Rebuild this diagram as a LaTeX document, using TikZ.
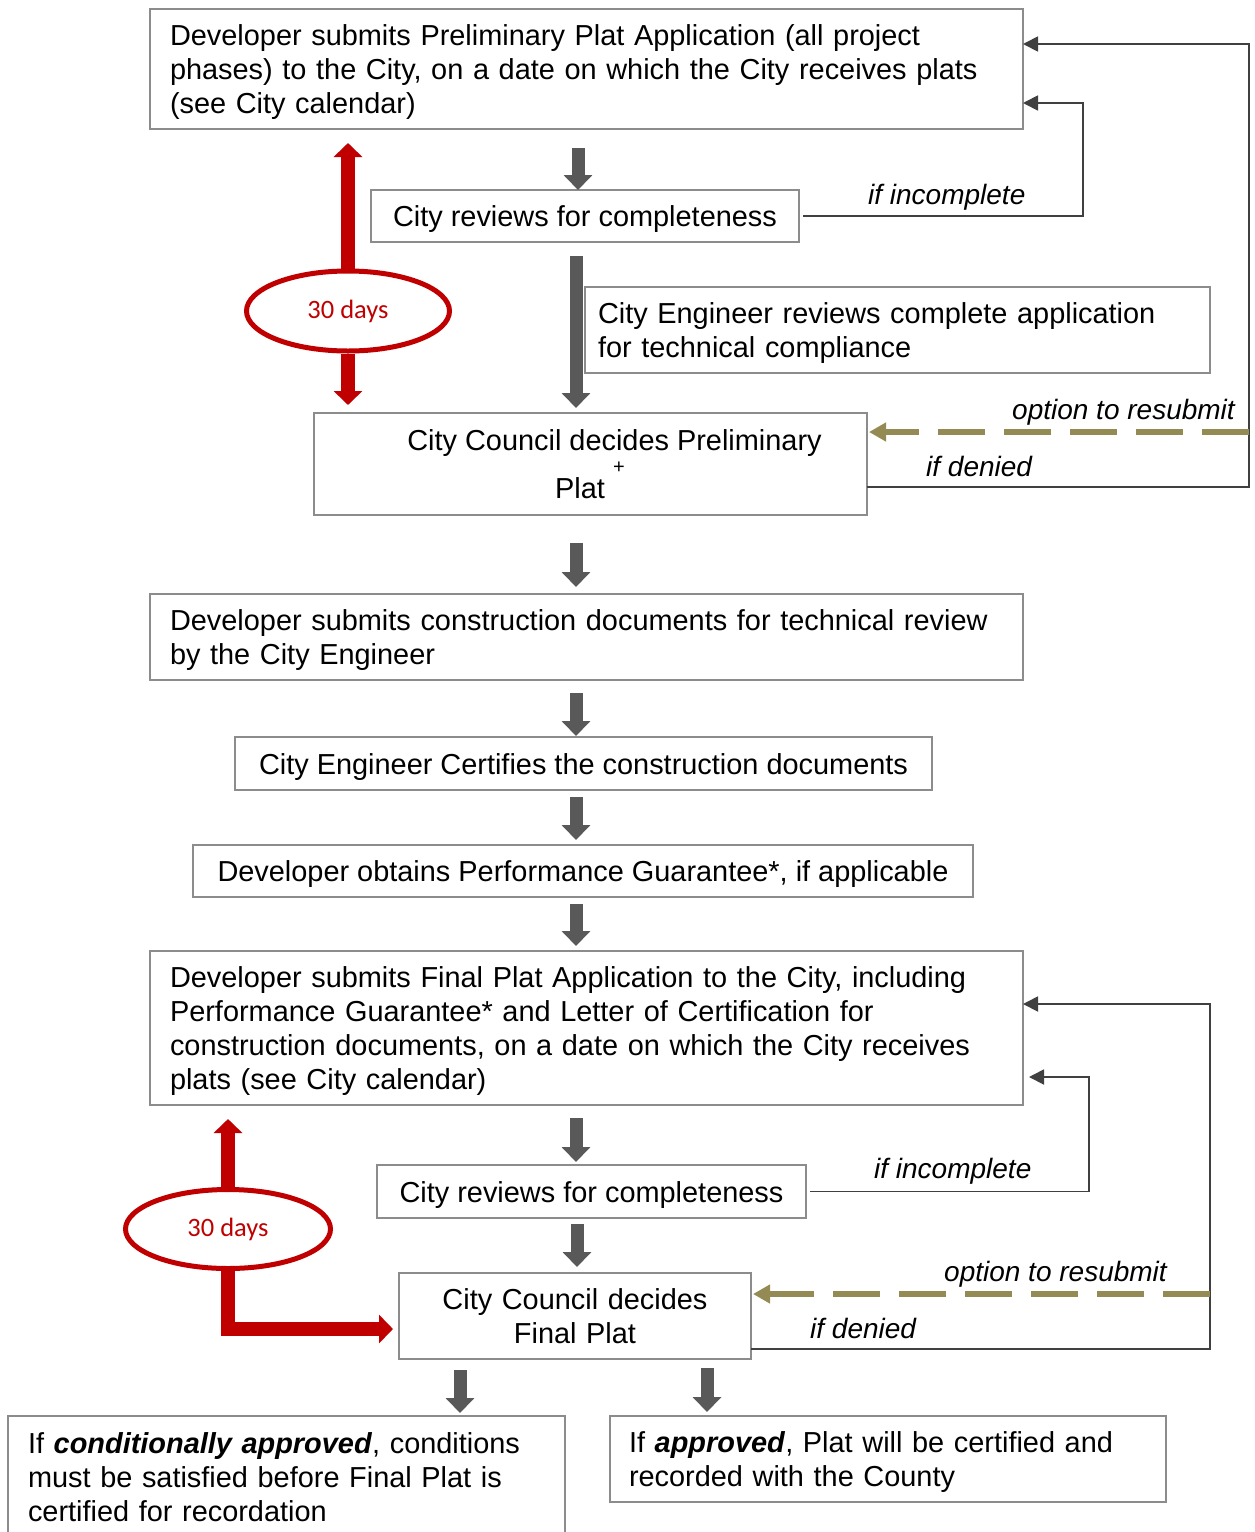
\documentclass[tikz,border=0pt]{standalone}
\usepackage{fontspec}
\setmainfont{Liberation Sans}
\newfontfamily\calib{Carlito}
\usetikzlibrary{arrows.meta,calc,shapes.geometric}
\definecolor{boxgray}{HTML}{8C8C8C}
\definecolor{arrgray}{HTML}{595959}
\definecolor{linegray}{HTML}{404040}
\definecolor{dkred}{HTML}{C00000}
\definecolor{resubOlive}{HTML}{948A54}
\def\ppstrut{\rule[-6.5pt]{0pt}{34pt}}
\begin{document}
\begin{tikzpicture}[x=1pt,y=-1pt,
  every node/.style={font=\fontsize{28.9}{34}\selectfont},
  box/.style={draw=boxgray,line width=1.8pt,fill=white,anchor=north west,inner ysep=0pt,outer sep=0pt,
    execute at begin node=\ppstrut,execute at end node=\ppstrut},
  cbox/.style={box,align=center,inner xsep=0pt},
  lbl/.style={font=\itshape\fontsize{28}{34}\selectfont,inner sep=0pt,anchor=base west},
  txt/.style={inner sep=0pt},
  fat/.style={color=arrgray,line width=13pt,-{Triangle[width=28pt,length=15pt]}},
  redarrow/.style={color=dkred,line width=14pt,line join=miter,-{Triangle[width=28pt,length=14pt]}},
  tarrow/.style={color=linegray,line width=1.8pt,-{Triangle[width=15pt,length=15pt]}},
  odash/.style={color=resubOlive,line width=6pt,dash pattern=on 47pt off 19pt,-{Triangle[width=18pt,length=17pt]}},
  redell/.style={ellipse,draw=dkred,line width=5pt,fill=white,inner sep=0pt,text=dkred,font=\calib\fontsize{26.5}{30}\selectfont}
]
\fill[white] (0,0) rectangle (1254,1532);
\useasboundingbox (0,0) rectangle (1254,1532);

% boxes
\node[box,align=left,inner xsep=20pt,text width=833pt,minimum height=120pt] (b1) at (150,9)
  {Developer submits Preliminary Plat Application (all project\\phases) to the City, on a date on which the City receives plats\\(see City calendar)};
\node[cbox,minimum width=428pt,minimum height=52pt] (b2) at (371,190)
  {City reviews for completeness};
\node[box,align=left,inner xsep=13pt,text width=599pt,minimum height=86pt] (b3) at (585,287)
  {City Engineer reviews complete application\\for technical compliance};
\node[box,minimum width=553pt,minimum height=102pt] (b4) at (314,413) {};
\node[txt,anchor=base] (t4a) at (614.5,450) {City Council decides Preliminary};
\node[txt,anchor=base west] (t4b) at (555,498) {Plat};
\node[txt,font=\fontsize{20}{24}\selectfont] (t4c) at (619,468) {+};
\node[box,align=left,inner xsep=20pt,text width=833pt,minimum height=86pt] (b5) at (150,594)
  {Developer submits construction documents for technical review\\by the City Engineer};
\node[cbox,minimum width=697pt,minimum height=53pt] (b6) at (235,737)
  {City Engineer Certifies the construction documents};
\node[cbox,minimum width=780pt,minimum height=52pt] (b7) at (193,845)
  {Developer obtains Performance Guarantee*, if applicable};
\node[box,align=left,inner xsep=20pt,text width=833pt,minimum height=154pt] (b8) at (150,951)
  {Developer submits Final Plat Application to the City, including\\Performance Guarantee* and Letter of Certification for\\construction documents, on a date on which the City receives\\plats (see City calendar)};
\node[cbox,minimum width=429pt,minimum height=53pt] (b9) at (377,1165)
  {City reviews for completeness};
\node[box,align=center,inner xsep=20pt,text width=312pt,minimum height=86pt] (b10) at (399,1273)
  {City Council decides\\Final Plat};
\node[box,align=left,inner xsep=20pt,text width=517pt,minimum height=122pt] (b11) at (8,1416)
  {If \textbf{\textit{conditionally approved}}, conditions\\must be satisfied before Final Plat is\\certified for recordation};
\node[box,align=left,inner xsep=19pt,text width=518pt,minimum height=86pt] (b12) at (610,1416)
  {If \textbf{\textit{approved}}, Plat will be certified and\\recorded with the County};

% 30 days ellipses
\node[redell,minimum width=203pt,minimum height=80pt] (e1) at (348,311) {30 days};
\node[redell,minimum width=205pt,minimum height=79pt] (e2) at (228,1229) {30 days};

% red arrows
\draw[redarrow] (e1.north) -- ($(e1.north |- b1.south)+(0,14)$);
\draw[redarrow] (e1.south) -- ($(e1.south |- b4.north)+(0,-8)$);
\draw[redarrow] (e2.north) -- ($(e2.north |- b8.south)+(0,14)$);
\draw[redarrow] (e2.south) |- ($(b10.west)+(-6,13)$);

% main flow arrows
\draw[fat] ($(b1.south -| b2.north)+(-7,19)$) -- ($(b2.north)+(-7,0)$);
\draw[fat] ($(b2.south -| b4.north)+(-14.5,14)$) -- ($(b4.north)+(-14.5,-5)$);
\draw[fat] ($(b4.south -| b5.north)+(-10.5,28)$) -- ($(b5.north)+(-10.5,-7)$);
\draw[fat] ($(b5.south -| b6.north)+(-7.5,13)$) -- ($(b6.north)+(-7.5,-1)$);
\draw[fat] ($(b6.south -| b7.north)+(-7,7)$) -- ($(b7.north)+(-7,-5)$);
\draw[fat] ($(b7.south -| b8.north)+(-10.5,7)$) -- ($(b8.north)+(-10.5,-5)$);
\draw[fat] ($(b8.south -| b9.north)+(-15.5,13)$) -- ($(b9.north)+(-15.5,-3)$);
\draw[fat] ($(b9.south -| b10.north)+(2,6)$) -- ($(b10.north)+(2,-6)$);
\draw[fat] ($(b10.south)+(-115,11)$) -- ($(b11.north -| b10.south)+(-115,-3)$);
\draw[fat] ($(b10.south)+(132,9)$) -- ($(b12.north -| b10.south)+(132,-4)$);

% feedback connectors (preliminary)
\draw[tarrow] ($(b2.east)+(4,0)$) -| (1083,103) -- ($(b1.east)+(0,34)$);
\draw[tarrow] ($(b4.east)+(0,23)$) -| (1249,44) -- ($(b1.east)+(0,-25)$);
\draw[odash] (1249,432) -- ($(b4.east)+(2,-32)$);
\node[lbl] (l1) at (868,204) {if incomplete};
\node[lbl] (l2) at (926,476) {if denied};
\node[lbl] (l3) at (1012,419) {option to resubmit};

% feedback connectors (final)
\draw[tarrow] ($(b9.east)+(4,0)$) -| (1089,1077) -- ($(b8.east)+(6,49)$);
\draw[tarrow] ($(b10.east)+(0,33)$) -| (1210,1004) -- ($(b8.east)+(0,-24)$);
\draw[odash] (1210,1294) -- ($(b10.east)+(2,-22)$);
\node[lbl] (l4) at (874,1178) {if incomplete};
\node[lbl] (l5) at (810,1338) {if denied};
\node[lbl] (l6) at (944,1281) {option to resubmit};
\end{tikzpicture}
\end{document}
